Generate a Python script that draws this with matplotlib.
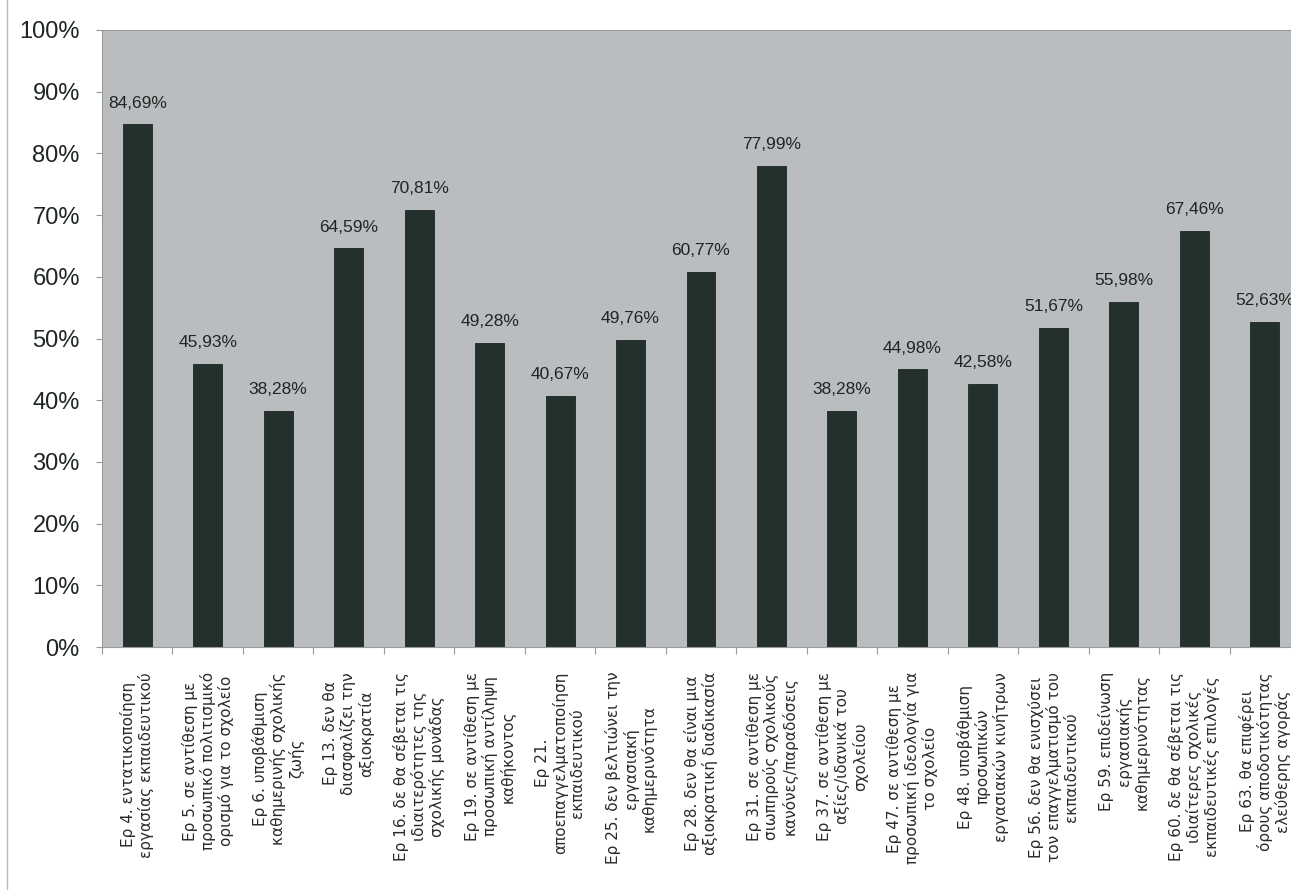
import numpy as np
import matplotlib.pyplot as plt
from matplotlib.lines import Line2D

# category labels (Greek, as in the original chart)
labels = [
    "Ερ 4. εντατικοποίηση\nεργασίας εκπαιδευτικού",
    "Ερ 5. σε αντίθεση με\nπροσωπικό πολιτισμικό\nορισμό για το σχολείο",
    "Ερ 6. υποβάθμιση\nκαθημερινής σχολικής\nζωής",
    "Ερ 13. δεν θα\nδιασφαλίζει την\nαξιοκρατία",
    "Ερ 16. δε θα σέβεται τις\nιδιαιτερότητες της\nσχολικής μονάδας",
    "Ερ 19. σε αντίθεση με\nπροσωπική αντίληψη\nκαθήκοντος",
    "Ερ 21.\nαποεπαγγελματοποίηση\nεκπαιδευτικού",
    "Ερ 25. δεν βελτιώνει την\nεργασιακή\nκαθημερινότητα",
    "Ερ 28. δεν θα είναι μια\nαξιοκρατική διαδικασία",
    "Ερ 31. σε αντίθεση με\nσιωπηρούς σχολικούς\nκανόνες/παραδόσεις",
    "Ερ 37. σε αντίθεση με\nαξίες/ιδανικά του\nσχολείου",
    "Ερ 47. σε αντίθεση με\nπροσωπική ιδεολογία για\nτο σχολείο",
    "Ερ 48. υποβάθμιση\nπροσωπικών\nεργασιακών κινήτρων",
    "Ερ 56. δεν θα ενισχύσει\nτον επαγγελματισμό του\nεκπαιδευτικού",
    "Ερ 59. επιδείνωση\nεργασιακής\nκαθημερινότητας",
    "Ερ 60. δε θα σέβεται τις\nιδιαίτερες σχολικές\nεκπαιδευτικές επιλογές",
    "Ερ 63. θα επιφέρει\nόρους αποδοτικότητας\nελεύθερης αγοράς",
]

# percentages
values = [84.69, 45.93, 38.28, 64.59, 70.81, 49.28, 40.67, 49.76, 60.77,
          77.99, 38.28, 44.98, 42.58, 51.67, 55.98, 67.46, 52.63]

yticks = [0, 10, 20, 30, 40, 50, 60, 70, 80, 90, 100]

W, H = 1291, 890
fig = plt.figure(figsize=(W / 100, H / 100), dpi=100)
fig.patch.set_facecolor("white")

# plot area in pixels: x 102..1300 (cut by the image edge), y 30..647
left, right, top, bottom = 102, 1300, 30, 647
ax = fig.add_axes([left / W, 1 - bottom / H, (right - left) / W, (bottom - top) / H])
ax.set_facecolor("#babdc0")

x = np.arange(len(values))
ax.bar(x, values, width=0.41, color="#24302b", edgecolor="#1c2622", linewidth=0.6, zorder=2)

for xi, v in zip(x, values):
    ax.annotate(f"{v:.2f}%".replace(".", ","), (xi, v), xytext=(0, 10),
                textcoords="offset points", ha="center", va="bottom",
                fontsize=12.5, family="Liberation Sans", color="#1e2522")

ax.set_xlim(-0.5, len(values) - 0.5)
ax.set_ylim(0, 100)

ax.set_yticks(yticks)
ax.set_yticklabels([f"{t}%" for t in yticks], fontsize=17,
                   family="Liberation Sans", color="#1e2522")
ax.tick_params(axis="y", length=4, width=0.8, color="#999999", pad=12)

ax.set_xticks(x)
ax.set_xticklabels(labels, rotation=90, ha="center", va="top",
                   multialignment="center", fontsize=11,
                   family="DejaVu Sans", color="#2a2a2a", linespacing=1.15)
ax.tick_params(axis="x", length=0, pad=18)
ax.set_xticks(np.arange(len(values) + 1) - 0.5, minor=True)
ax.tick_params(axis="x", which="minor", length=5, width=0.8, color="#999999")

for side in ["top", "left", "bottom"]:
    ax.spines[side].set_color("#9a9a9a")
    ax.spines[side].set_linewidth(0.8)
ax.spines["right"].set_visible(False)

# outer chart frame on the left
fig.add_artist(Line2D([7 / W, 7 / W], [0, 1], color="#bbbbbb", lw=1))

fig.savefig("out.png", dpi=100)
